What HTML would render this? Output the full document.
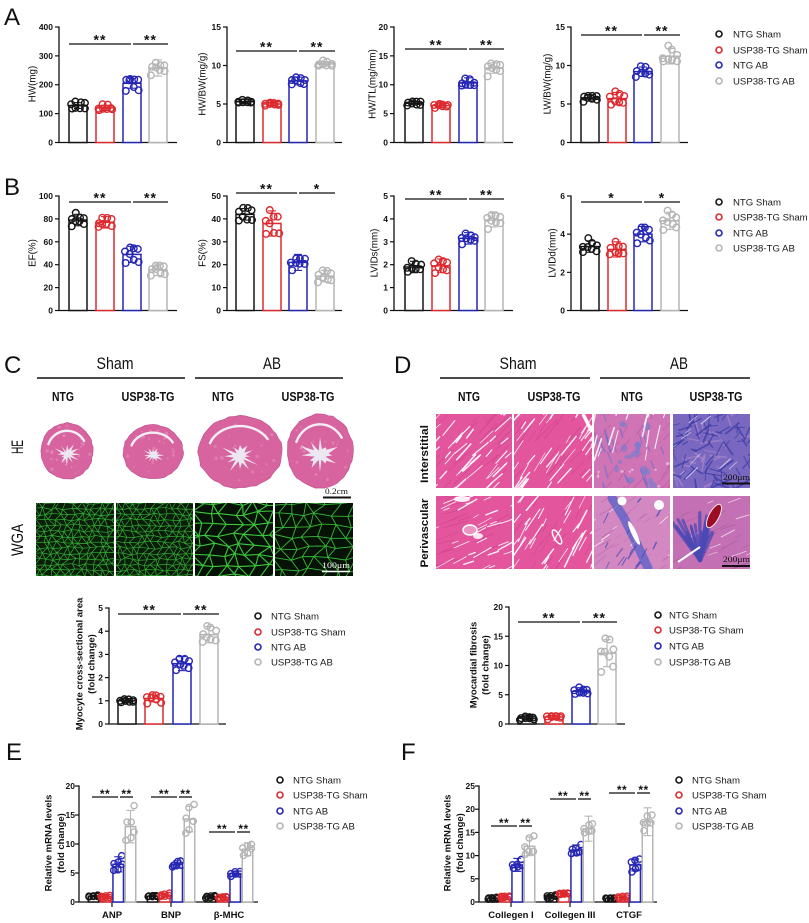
<!DOCTYPE html>
<html><head><meta charset="utf-8"><style>
html,body{margin:0;padding:0;background:#fff}
svg{display:block}
text{font-family:"Liberation Sans",Arial,sans-serif;fill:#111}
.tk{font-size:8.5px;font-weight:bold;text-anchor:end}
.yl{font-size:9.8px;text-anchor:middle}
.ylb{font-size:9.5px;font-weight:bold;text-anchor:middle}
.lg{font-size:9.6px;fill:#1a1a1a}
.st{font-size:14px;font-weight:bold;text-anchor:middle;letter-spacing:1px}
.st2{font-size:12px;font-weight:bold;text-anchor:middle;letter-spacing:0.5px}
.pl{font-size:24px}
.hd{font-size:16.5px;text-anchor:middle}
.sb{font-size:12.5px;font-weight:bold;text-anchor:middle}
.cat{font-size:9.5px;font-weight:bold;text-anchor:middle}
.sc{font-family:"Liberation Serif",serif;font-size:8.5px}
.rl{font-size:17px;text-anchor:middle}
.rl2{font-size:11px;font-weight:bold;text-anchor:middle}
</style></head><body>
<svg id="s" width="809" height="923" viewBox="0 0 809 923" xmlns="http://www.w3.org/2000/svg">
<defs id="defs"></defs>
<rect x="0" y="0" width="809" height="923" fill="#fff"/>
<g id="img"></g>
<g id="plots"></g>

<!-- Panel letters -->
<text class="pl" x="4" y="25">A</text>
<text class="pl" x="4" y="195">B</text>
<text class="pl" x="4" y="373">C</text>
<text class="pl" x="394" y="373">D</text>
<text class="pl" x="6" y="760">E</text>
<text class="pl" x="401" y="760">F</text>

<!-- A tick labels -->
<text class="tk" x="53" y="145.5">0</text><text class="tk" x="53" y="116.6">100</text><text class="tk" x="53" y="87.7">200</text><text class="tk" x="53" y="58.9">300</text><text class="tk" x="53" y="30">400</text>
<text class="tk" x="221" y="145.5">0</text><text class="tk" x="221" y="107">5</text><text class="tk" x="221" y="68.5">10</text><text class="tk" x="221" y="30">15</text>
<text class="tk" x="388" y="145.5">0</text><text class="tk" x="388" y="116.6">5</text><text class="tk" x="388" y="87.7">10</text><text class="tk" x="388" y="58.9">15</text><text class="tk" x="388" y="30">20</text>
<text class="tk" x="565" y="145.5">0</text><text class="tk" x="565" y="107">5</text><text class="tk" x="565" y="68.5">10</text><text class="tk" x="565" y="30">15</text>
<!-- B tick labels -->
<text class="tk" x="53" y="313.5">0</text><text class="tk" x="53" y="290.6">20</text><text class="tk" x="53" y="267.7">40</text><text class="tk" x="53" y="244.8">60</text><text class="tk" x="53" y="221.9">80</text><text class="tk" x="53" y="199">100</text>
<text class="tk" x="221" y="313.5">0</text><text class="tk" x="221" y="290.6">10</text><text class="tk" x="221" y="267.7">20</text><text class="tk" x="221" y="244.8">30</text><text class="tk" x="221" y="221.9">40</text><text class="tk" x="221" y="199">50</text>
<text class="tk" x="388" y="313.5">0</text><text class="tk" x="388" y="290.6">1</text><text class="tk" x="388" y="267.7">2</text><text class="tk" x="388" y="244.8">3</text><text class="tk" x="388" y="221.9">4</text><text class="tk" x="388" y="199">5</text>
<text class="tk" x="565" y="313.5">0</text><text class="tk" x="565" y="275.3">2</text><text class="tk" x="565" y="237.2">4</text><text class="tk" x="565" y="199">6</text>
<!-- C/D tick labels -->
<text class="tk" x="103" y="727">0</text><text class="tk" x="103" y="703.8">1</text><text class="tk" x="103" y="680.6">2</text><text class="tk" x="103" y="657.4">3</text><text class="tk" x="103" y="634.2">4</text><text class="tk" x="103" y="611">5</text>
<text class="tk" x="503" y="727">0</text><text class="tk" x="503" y="697.8">5</text><text class="tk" x="503" y="668.5">10</text><text class="tk" x="503" y="639.3">15</text><text class="tk" x="503" y="610">20</text>
<!-- E/F tick labels -->
<text class="tk" x="75" y="905">0</text><text class="tk" x="75" y="876">5</text><text class="tk" x="75" y="847">10</text><text class="tk" x="75" y="818">15</text><text class="tk" x="75" y="789">20</text>
<text class="tk" x="475" y="905">0</text><text class="tk" x="475" y="881.8">5</text><text class="tk" x="475" y="858.6">10</text><text class="tk" x="475" y="835.4">15</text><text class="tk" x="475" y="812.2">20</text><text class="tk" x="475" y="789">25</text>

<!-- Y axis titles -->
<text class="yl" transform="translate(35.5,84) rotate(-90)">HW(mg)</text>
<text class="yl" transform="translate(205.5,84) rotate(-90)">HW/BW(mg/g)</text>
<text class="yl" transform="translate(375.5,84) rotate(-90)">HW/TL(mg/mm)</text>
<text class="yl" transform="translate(550.5,84) rotate(-90)">LW/BW(mg/g)</text>
<text class="yl" transform="translate(35.5,253) rotate(-90)">EF(%)</text>
<text class="yl" transform="translate(205.5,253) rotate(-90)">FS(%)</text>
<text class="yl" transform="translate(377.5,253) rotate(-90)">LVIDs(mm)</text>
<text class="yl" transform="translate(555.5,253) rotate(-90)">LVIDd(mm)</text>
<text class="ylb" transform="translate(82.5,664) rotate(-90)">Myocyte cross-sectional area</text>
<text class="ylb" transform="translate(94.5,664) rotate(-90)">(fold change)</text>
<text class="ylb" transform="translate(476.5,665) rotate(-90)">Myocardial fibrosis</text>
<text class="ylb" transform="translate(488.5,665) rotate(-90)">(fold change)</text>
<text class="ylb" transform="translate(51.5,843) rotate(-90)">Relative mRNA levels</text>
<text class="ylb" transform="translate(64,843) rotate(-90)">(fold change)</text>
<text class="ylb" transform="translate(450.5,843) rotate(-90)">Relative mRNA levels</text>
<text class="ylb" transform="translate(463,843) rotate(-90)">(fold change)</text>

<!-- Stars A -->
<text class="st" x="100" y="44.5">**</text><text class="st" x="150.5" y="44.5">**</text>
<text class="st" x="266.5" y="51.5">**</text><text class="st" x="317" y="51.5">**</text>
<text class="st" x="436" y="49.5">**</text><text class="st" x="486.5" y="49.5">**</text>
<text class="st" x="611.5" y="35.5">**</text><text class="st" x="662" y="35.5">**</text>
<!-- Stars B -->
<text class="st" x="100" y="202.5">**</text><text class="st" x="150.5" y="202.5">**</text>
<text class="st" x="266.5" y="193.5">**</text><text class="st" x="317" y="193.5">*</text>
<text class="st" x="436" y="199.5">**</text><text class="st" x="486.5" y="199.5">**</text>
<text class="st" x="611.5" y="202.5">*</text><text class="st" x="662" y="202.5">*</text>
<!-- Stars C D -->
<text class="st" x="149.5" y="614.5">**</text><text class="st" x="201" y="614.5">**</text>
<text class="st" x="549" y="622.5">**</text><text class="st" x="599.5" y="622.5">**</text>
<!-- Stars E -->
<text class="st2" x="105" y="798">**</text><text class="st2" x="126.5" y="798">**</text>
<text class="st2" x="164" y="798">**</text><text class="st2" x="185.5" y="798">**</text>
<text class="st2" x="222" y="833">**</text><text class="st2" x="243.5" y="833">**</text>
<!-- Stars F -->
<text class="st2" x="504" y="827">**</text><text class="st2" x="525.5" y="827">**</text>
<text class="st2" x="563" y="800">**</text><text class="st2" x="584.5" y="800">**</text>
<text class="st2" x="622" y="794">**</text><text class="st2" x="643.5" y="794">**</text>

<!-- Category labels -->
<text class="cat" x="112" y="918">ANP</text>
<text class="cat" x="171" y="918">BNP</text>
<text class="cat" x="229" y="918">β-MHC</text>
<text class="cat" x="511" y="918">Collegen I</text>
<text class="cat" x="570" y="918">Collegen III</text>
<text class="cat" x="629" y="918">CTGF</text>

<!-- Legends -->
<g fill="none" stroke-width="1.6">
<circle cx="719" cy="34" r="3" stroke="#151515"/><circle cx="719" cy="50" r="3" stroke="#dd2a2f"/><circle cx="719" cy="65" r="3" stroke="#2626b5"/><circle cx="719" cy="81" r="3" stroke="#b5b5b5"/>
<circle cx="719" cy="202" r="3" stroke="#151515"/><circle cx="719" cy="217" r="3" stroke="#dd2a2f"/><circle cx="719" cy="233" r="3" stroke="#2626b5"/><circle cx="719" cy="248" r="3" stroke="#b5b5b5"/>
<circle cx="258" cy="616" r="3" stroke="#151515"/><circle cx="258" cy="632" r="3" stroke="#dd2a2f"/><circle cx="258" cy="647" r="3" stroke="#2626b5"/><circle cx="258" cy="662" r="3" stroke="#b5b5b5"/>
<circle cx="658" cy="615" r="3" stroke="#151515"/><circle cx="658" cy="630" r="3" stroke="#dd2a2f"/><circle cx="658" cy="646" r="3" stroke="#2626b5"/><circle cx="658" cy="662" r="3" stroke="#b5b5b5"/>
<circle cx="280" cy="780" r="3" stroke="#151515"/><circle cx="280" cy="795" r="3" stroke="#dd2a2f"/><circle cx="280" cy="811" r="3" stroke="#2626b5"/><circle cx="280" cy="826" r="3" stroke="#b5b5b5"/>
<circle cx="679" cy="780" r="3" stroke="#151515"/><circle cx="679" cy="795" r="3" stroke="#dd2a2f"/><circle cx="679" cy="811" r="3" stroke="#2626b5"/><circle cx="679" cy="826" r="3" stroke="#b5b5b5"/>
</g>
<text class="lg" x="733" y="37.5">NTG Sham</text><text class="lg" x="733" y="53.5">USP38-TG Sham</text><text class="lg" x="733" y="68.5">NTG AB</text><text class="lg" x="733" y="84.5">USP38-TG AB</text>
<text class="lg" x="733" y="205.5">NTG Sham</text><text class="lg" x="733" y="220.5">USP38-TG Sham</text><text class="lg" x="733" y="236.5">NTG AB</text><text class="lg" x="733" y="251.5">USP38-TG AB</text>
<text class="lg" x="271" y="619.5">NTG Sham</text><text class="lg" x="271" y="635.5">USP38-TG Sham</text><text class="lg" x="271" y="650.5">NTG AB</text><text class="lg" x="271" y="665.5">USP38-TG AB</text>
<text class="lg" x="669" y="618.5">NTG Sham</text><text class="lg" x="669" y="633.5">USP38-TG Sham</text><text class="lg" x="669" y="649.5">NTG AB</text><text class="lg" x="669" y="665.5">USP38-TG AB</text>
<text class="lg" x="293" y="783.5">NTG Sham</text><text class="lg" x="293" y="798.5">USP38-TG Sham</text><text class="lg" x="293" y="814.5">NTG AB</text><text class="lg" x="293" y="829.5">USP38-TG AB</text>
<text class="lg" x="692" y="783.5">NTG Sham</text><text class="lg" x="692" y="798.5">USP38-TG Sham</text><text class="lg" x="692" y="814.5">NTG AB</text><text class="lg" x="692" y="829.5">USP38-TG AB</text>

<!-- C headers -->
<text class="hd" x="115" y="369" textLength="37" lengthAdjust="spacingAndGlyphs">Sham</text>
<text class="hd" x="272" y="369" textLength="18" lengthAdjust="spacingAndGlyphs">AB</text>
<line x1="37" y1="378" x2="185" y2="378" stroke="#111" stroke-width="1.5"/>
<line x1="195" y1="378" x2="343" y2="378" stroke="#111" stroke-width="1.5"/>
<text class="sb" x="63" y="401" textLength="22" lengthAdjust="spacingAndGlyphs">NTG</text>
<text class="sb" x="148" y="401" textLength="53" lengthAdjust="spacingAndGlyphs">USP38-TG</text>
<text class="sb" x="223" y="401" textLength="22" lengthAdjust="spacingAndGlyphs">NTG</text>
<text class="sb" x="308" y="401" textLength="53" lengthAdjust="spacingAndGlyphs">USP38-TG</text>
<text class="rl" transform="translate(23,447) rotate(-90)" textLength="14" lengthAdjust="spacingAndGlyphs">HE</text>
<text class="rl" transform="translate(23,540) rotate(-90)" textLength="32" lengthAdjust="spacingAndGlyphs">WGA</text>
<!-- D headers -->
<text class="hd" x="518" y="369" textLength="37" lengthAdjust="spacingAndGlyphs">Sham</text>
<text class="hd" x="679" y="369" textLength="18" lengthAdjust="spacingAndGlyphs">AB</text>
<line x1="440" y1="378" x2="590" y2="378" stroke="#111" stroke-width="1.5"/>
<line x1="600" y1="378" x2="750" y2="378" stroke="#111" stroke-width="1.5"/>
<text class="sb" x="469" y="401" textLength="22" lengthAdjust="spacingAndGlyphs">NTG</text>
<text class="sb" x="554" y="401" textLength="53" lengthAdjust="spacingAndGlyphs">USP38-TG</text>
<text class="sb" x="632" y="401" textLength="22" lengthAdjust="spacingAndGlyphs">NTG</text>
<text class="sb" x="716" y="401" textLength="53" lengthAdjust="spacingAndGlyphs">USP38-TG</text>
<text class="rl2" transform="translate(428,454) rotate(-90)" textLength="58" lengthAdjust="spacingAndGlyphs">Interstitial</text>
<text class="rl2" transform="translate(428,533) rotate(-90)" textLength="69" lengthAdjust="spacingAndGlyphs">Perivascular</text>

<!-- Scale bars -->
<text class="sc" x="325" y="494" textLength="23" lengthAdjust="spacingAndGlyphs">0.2cm</text>
<line x1="323" y1="497.5" x2="351" y2="497.5" stroke="#111" stroke-width="2"/>
<text class="sc" x="322" y="568" textLength="28" lengthAdjust="spacingAndGlyphs" style="fill:#fff">100μm</text>
<line x1="322" y1="571.5" x2="350" y2="571.5" stroke="#fff" stroke-width="1.5"/>
<text class="sc" x="723" y="480" textLength="27" lengthAdjust="spacingAndGlyphs">200μm</text>
<line x1="722" y1="483.5" x2="750" y2="483.5" stroke="#111" stroke-width="2"/>
<text class="sc" x="723" y="562" textLength="27" lengthAdjust="spacingAndGlyphs">200μm</text>
<line x1="722" y1="566" x2="750" y2="566" stroke="#111" stroke-width="2"/>

</svg>
<script>
(function(){
var NS='http://www.w3.org/2000/svg';
function el(t,a,p){var e=document.createElementNS(NS,t);for(var k in a)e.setAttribute(k,a[k]);p.appendChild(e);return e;}
var seed=12345;function rnd(){seed=(seed*16807)%2147483647;return (seed-1)/2147483646;}
var P=document.getElementById('plots'),IM=document.getElementById('img'),DF=document.getElementById('defs');
var COL=['#151515','#dd2a2f','#2626b5','#b5b5b5'];
var cid=0;

function axes(ax,end,y0,yt,ty){
 el('line',{x1:ax,y1:yt-0.6,x2:ax,y2:y0,stroke:'#111','stroke-width':1.3},P);
 el('line',{x1:ax-0.6,y1:y0,x2:end,y2:y0,stroke:'#111','stroke-width':1.3},P);
 ty.forEach(function(y){el('line',{x1:ax-4,y1:y,x2:ax,y2:y,stroke:'#111','stroke-width':1.2},P);});
}
function genPts(n,v,sd,w){
 var vals=[],k;for(k=0;k<n;k++)vals.push(v+sd*(rnd()*2.6-1.3));
 var m=0;for(k=0;k<n;k++)m+=vals[k];m/=n;
 for(k=0;k<n;k++){vals[k]+=v-m;if(vals[k]<0.05*v)vals[k]=0.05*v+rnd()*0.1*v;}
 vals.sort(function(a,b){return a-b;});
 var cols=w>15?[-0.36,-0.12,0.12,0.36]:[-0.38,0,0.38];
 return vals.map(function(val,i){var ci=(cols.length===4)?(i*3)%4:i%3;return [cols[ci]*w+(rnd()-0.5)*1.5,val];});
}
function barSet(cx,w,y0,sy,v,sd,col,pts,r){
 var top=sy(v);
 el('rect',{x:cx-w/2,y:top,width:w,height:y0-top,fill:'#fff',stroke:col,'stroke-width':1.5},P);
 var a=sy(v+sd),b=sy(Math.max(v-sd,0));
 el('line',{x1:cx,y1:a,x2:cx,y2:b,stroke:col,'stroke-width':1.1},P);
 el('line',{x1:cx-4,y1:a,x2:cx+4,y2:a,stroke:col,'stroke-width':1.1},P);
 el('line',{x1:cx-4,y1:b,x2:cx+4,y2:b,stroke:col,'stroke-width':1.1},P);
 pts.forEach(function(p){el('circle',{cx:cx+p[0],cy:sy(p[1]),r:r,fill:'none',stroke:col,'stroke-width':1.4},P);});
}
function chart(c){
 var sy=function(v){return c.y0-(v/c.max)*(c.y0-c.yt);};
 var ty=[];for(var t=0;t<=c.max+1e-9;t+=c.step)ty.push(sy(t));
 axes(c.ax,c.end,c.y0,c.yt,ty);
 c.bars.forEach(function(bx,i){barSet(bx+9,18,c.y0,sy,c.v[i],c.sd[i],COL[i],genPts(8,c.v[i],c.sd[i],18),3.3);});
 var b=c.bars;
 el('line',{x1:b[0],y1:c.sig,x2:b[2]+8,y2:c.sig,stroke:'#111','stroke-width':1.3},P);
 el('line',{x1:b[2]+10,y1:c.sig,x2:b[3]+19,y2:c.sig,stroke:'#111','stroke-width':1.3},P);
}
function gchart(c){
 var sy=function(v){return c.y0-(v/c.max)*(c.y0-c.yt);};
 var ty=[];for(var t=0;t<=c.max+1e-9;t+=5)ty.push(sy(t));
 axes(c.ax,c.end,c.y0,c.yt,ty);
 var off=[-18.5,-6.2,6.2,18.5];
 c.groups.forEach(function(g,gi){
  var gc=c.gx[gi];
  el('line',{x1:gc,y1:c.y0,x2:gc,y2:c.y0+5,stroke:'#111','stroke-width':1.2},P);
  off.forEach(function(o,i){barSet(gc+o,10.5,c.y0,sy,g.v[i],g.sd[i],COL[i],genPts(6,g.v[i],g.sd[i],10.5),3.1);});
  el('line',{x1:gc-20,y1:g.sig,x2:gc+6,y2:g.sig,stroke:'#111','stroke-width':1.3},P);
  el('line',{x1:gc+8,y1:g.sig,x2:gc+21,y2:g.sig,stroke:'#111','stroke-width':1.3},P);
 });
}
var XA={a1:[59,177,[69,96,123,149]],a2:[227,342,[236,263,289,316]],a3:[394,513,[405,432,459,485]],a4:[571,688,[581,608,634,661]]};
function rowCharts(y0,yt,specs){
 ['a1','a2','a3','a4'].forEach(function(k,i){var s=specs[i];chart({ax:XA[k][0],end:XA[k][1],bars:XA[k][2],y0:y0,yt:yt,max:s[0],step:s[1],v:s[2],sd:s[3],sig:s[4]});});
}
rowCharts(142.5,27,[
 [400,100,[128,120,205,258],[10,9,17,28],44],
 [15,5,[5.3,5.0,8.0,10.2],[0.3,0.2,0.5,0.3],51],
 [20,5,[6.8,6.4,10.3,12.9],[0.3,0.4,0.9,0.9],49],
 [15,5,[5.8,5.7,9.2,11.2],[0.4,0.8,0.6,1.0],35]
]);
rowCharts(310.5,196,[
 [100,20,[79,77,49,35.5],[5,5,7,5],202],
 [50,10,[42,38,21,15],[2.5,5.5,3.5,2.5],193],
 [5,1,[1.9,1.95,3.15,3.95],[0.25,0.3,0.25,0.3],199],
 [6,2,[3.35,3.2,4.0,4.7],[0.3,0.4,0.4,0.45],202]
]);
chart({ax:109,end:226,bars:[118,145,173,200],y0:724,yt:608,max:5,step:1,v:[1.0,1.1,2.6,3.85],sd:[0.08,0.15,0.3,0.35],sig:614});
chart({ax:509,end:625,bars:[518,545,572,598],y0:724,yt:607,max:20,step:5,v:[1.0,1.2,5.6,12.1],sd:[0.3,0.25,0.6,2.3],sig:622});
gchart({ax:79,end:258,y0:902,yt:786,max:20,gx:[112,171,229],groups:[
 {v:[1.0,0.9,6.5,13],sd:[0.15,0.2,1.3,2.8],sig:797},
 {v:[1.0,1.2,6.5,14.3],sd:[0.1,0.25,0.6,2.2],sig:797},
 {v:[0.9,0.8,4.9,9.1],sd:[0.2,0.1,0.4,1.1],sig:832}]});
gchart({ax:479,end:657,y0:902,yt:786,max:25,gx:[511,570,629],groups:[
 {v:[0.8,1.1,8,12],sd:[0.2,0.25,1.4,2],sig:826},
 {v:[1.2,1.8,11.2,15.8],sd:[0.3,0.3,1.1,2.7],sig:799},
 {v:[0.8,1.0,8,17.3],sd:[0.1,0.2,1.3,3],sig:793}]});

/* ---------- HE hearts ---------- */
function heart(cx,cy,rx,ry,cav){
 var d='',N=48,k;
 for(k=0;k<N;k++){var t=k/N*2*Math.PI,rr=1+(rnd()-0.5)*0.04;d+=(k?'L':'M')+(cx+rx*rr*Math.cos(t)).toFixed(1)+' '+(cy+ry*rr*Math.sin(t)).toFixed(1);}
 el('path',{d:d+'Z',fill:'#d8649f',stroke:'#c25290','stroke-width':0.7},IM);
 for(k=0;k<25;k++){var a=rnd()*2*Math.PI,q=Math.sqrt(rnd())*0.9;el('circle',{cx:cx+rx*q*Math.cos(a),cy:cy+ry*q*Math.sin(a),r:0.6+rnd()*1.2,fill:'#e590bf','fill-opacity':0.6},IM);}
 var a1=200*Math.PI/180,a2=330*Math.PI/180,R1=rx*0.76,R2=ry*0.72;
 el('path',{d:'M'+(cx+R1*Math.cos(a1)).toFixed(1)+' '+(cy+R2*Math.sin(a1)).toFixed(1)+' A'+R1+' '+R2+' 0 0 1 '+(cx+R1*Math.cos(a2)).toFixed(1)+' '+(cy+R2*Math.sin(a2)).toFixed(1),fill:'none',stroke:'#f4eef6','stroke-width':2.4,'stroke-linecap':'round'},IM);
 var p='',M=24;
 for(k=0;k<M;k++){var t2=k/M*2*Math.PI,r2=(k%2?0.42:1)*cav*(0.6+rnd()*0.7);p+=(k?'L':'M')+(cx+r2*Math.cos(t2)).toFixed(1)+' '+(cy+ry*0.12+r2*0.85*Math.sin(t2)).toFixed(1);}
 el('path',{d:p+'Z',fill:'#ece7f1'},IM);
}
heart(67,451,26,28,11);
heart(153,452,30,27,9);
heart(240,452,42,36,17);
heart(320,451,33,37,18);

/* ---------- WGA ---------- */
function clipG(x,y,w,h){var id='c'+(cid++);var cp=el('clipPath',{id:id},DF);el('rect',{x:x,y:y,width:w,height:h},cp);return el('g',{'clip-path':'url(#'+id+')'},IM);}
function wga(x,y,w,h,sp,sw,col,bg,diag){
 var g=clipG(x,y,w,h);
 el('rect',{x:x,y:y,width:w,height:h,fill:bg},g);
 var vy=sp*0.8,nx=Math.ceil(w/sp)+3,ny=Math.ceil(h/vy)+3,pts=[],i,j;
 for(i=0;i<nx;i++){pts[i]=[];for(j=0;j<ny;j++){pts[i][j]=[x-sp+i*sp+(j%2)*sp*0.5+(rnd()-0.5)*sp*0.6,y-vy+j*vy+(rnd()-0.5)*vy*0.5];}}
 var d='';
 function seg(p,q){d+='M'+p[0].toFixed(1)+' '+p[1].toFixed(1)+'L'+q[0].toFixed(1)+' '+q[1].toFixed(1);}
 for(i=0;i<nx;i++)for(j=0;j<ny;j++){var p=pts[i][j];
  if(i+1<nx)seg(p,pts[i+1][j]);
  if(j+1<ny){seg(p,pts[i][j+1]);var ii=(j%2)?i+1:i-1;if(diag&&ii>=0&&ii<nx&&rnd()<diag)seg(p,pts[ii][j+1]);}
 }
 el('path',{d:d,stroke:col,'stroke-width':sw,fill:'none','stroke-linecap':'round'},g);
}
wga(36,503,78,73,7,0.7,'#34b034','#0a1e0a',0.6);
wga(116,503,77,73,7,0.7,'#32aa32','#0a1c0a',0.6);
wga(195,503,78,73,13,1.1,'#3cc83c','#061206',0.3);
wga(275,503,78,73,14,0.9,'#36b836','#061206',0.3);

/* ---------- Masson ---------- */
function base(x,y,w,h,c){var g=clipG(x,y,w,h);el('rect',{x:x,y:y,width:w,height:h,fill:c},g);return g;}
function streaks(g,x,y,w,h,n,ang,len,col,w0,w1,op,spread){
 spread=spread||0.25;
 for(var k=0;k<n;k++){var px=x-10+rnd()*(w+20),py=y-10+rnd()*(h+20),a=ang+(rnd()-0.5)*spread,L=len*(0.4+rnd()*1.2);
 el('line',{x1:px,y1:py,x2:px+L*Math.cos(a),y2:py-L*Math.sin(a),stroke:col,'stroke-width':w0+rnd()*(w1-w0),'stroke-opacity':op,'stroke-linecap':'round'},g);}
}
function blobs(g,x,y,w,h,n,col,r0,r1,op){
 for(var k=0;k<n;k++){el('ellipse',{cx:x+rnd()*w,cy:y+rnd()*h,rx:r0+rnd()*(r1-r0),ry:r0+rnd()*(r1-r0),fill:col,'fill-opacity':op},g);}
}
var PINK='#e3569d';
var g=base(436,414,76,74,PINK);
streaks(g,436,414,76,74,30,0.75,20,'#c8408a',0.5,1.1,0.6);
streaks(g,436,414,76,74,50,0.8,15,'#ffffff',0.6,1.6,0.9);
g=base(514,414,78,74,PINK);
streaks(g,514,414,78,74,30,0.9,20,'#c8408a',0.5,1.1,0.6);
streaks(g,514,414,78,74,50,0.95,16,'#ffffff',0.6,1.6,0.9);
el('line',{x1:583,y1:414,x2:592,y2:432,stroke:'#fff','stroke-width':3.5},g);
g=base(594,414,76,74,'#cf74b4');
streaks(g,594,414,76,74,35,0.9,16,'#b4579e',0.5,1.2,0.6);
blobs(g,615,418,40,70,16,'#5f7fd6',2,5,0.5);
streaks(g,610,414,45,74,20,1.9,14,'#5070d0',0.8,1.8,0.55);
streaks(g,594,414,76,40,22,1.3,16,'#ffffff',0.7,1.8,0.85);
blobs(g,594,460,76,28,8,'#e9c0e0',1,2,0.8);
g=base(673,414,77,74,'#7a68c0');
streaks(g,673,414,77,74,30,0.5,12,'#b48ccc',0.8,2,0.6,3);
streaks(g,673,414,77,74,90,0.8,12,'#3c3ca6',0.8,2,0.75,3);
streaks(g,673,414,77,74,10,0.7,10,'#ffffff',0.6,1.2,0.6);
g=base(436,496,76,73,PINK);
streaks(g,436,496,76,73,30,0.35,20,'#c8408a',0.5,1.1,0.6);
streaks(g,436,496,76,73,45,0.4,14,'#ffffff',0.6,1.5,0.9);
el('ellipse',{cx:470,cy:530,rx:7,ry:5,fill:'#eb93c2',stroke:'#fff','stroke-width':1.5},g);
el('ellipse',{cx:478,cy:536,rx:5,ry:3,fill:'#fff','fill-opacity':0.85},g);
el('ellipse',{cx:462,cy:499,rx:8,ry:3,fill:'#fff','fill-opacity':0.9},g);
g=base(514,496,78,73,PINK);
streaks(g,514,496,78,73,30,1.0,20,'#c8408a',0.5,1.1,0.6);
streaks(g,514,496,78,73,45,1.0,18,'#ffffff',0.6,1.6,0.9);
el('ellipse',{cx:557,cy:537,rx:3,ry:8,transform:'rotate(-30 557 537)',fill:'none',stroke:'#fff','stroke-width':1.4},g);
g=base(594,496,76,73,'#d488c2');
streaks(g,594,496,76,73,40,0.6,14,'#b868a8',0.5,1.2,0.6);
streaks(g,594,496,76,73,15,0.6,10,'#ffffff',0.5,1.2,0.7);
el('polyline',{points:'612,498 624,518 635,540 648,568',fill:'none',stroke:'#4d5fc8','stroke-width':9,'stroke-opacity':0.7,'stroke-linecap':'round'},g);
streaks(g,610,500,40,68,16,1.0,10,'#3848b8',0.8,1.6,0.7);
el('ellipse',{cx:634,cy:533,rx:2.5,ry:13,transform:'rotate(-25 634 533)',fill:'#fff'},g);
el('circle',{cx:622,cy:501,r:4.5,fill:'#fff'},g);
el('circle',{cx:659,cy:505,r:5,fill:'#fff'},g);
g=base(673,496,77,73,'#c470b4');
streaks(g,673,496,77,73,35,0.4,14,'#a85aa0',0.5,1.2,0.6);
streaks(g,673,496,77,73,15,0.4,12,'#ffffff',0.5,1.2,0.6);
for(var k=0;k<18;k++){var a=1.0+rnd()*1.3,L=25+rnd()*25;el('line',{x1:700,y1:560,x2:700+L*Math.cos(a),y2:560-L*Math.sin(a),stroke:'#4a48b4','stroke-width':2+rnd()*3,'stroke-opacity':0.75,'stroke-linecap':'round'},g);}
el('ellipse',{cx:714,cy:516,rx:5,ry:13,transform:'rotate(28 714 516)',fill:'#9c0d24',stroke:'#f2e6ee','stroke-width':1},g);
el('line',{x1:678,y1:562,x2:700,y2:547,stroke:'#fff','stroke-width':2},g);
})();
</script>
</body></html>
